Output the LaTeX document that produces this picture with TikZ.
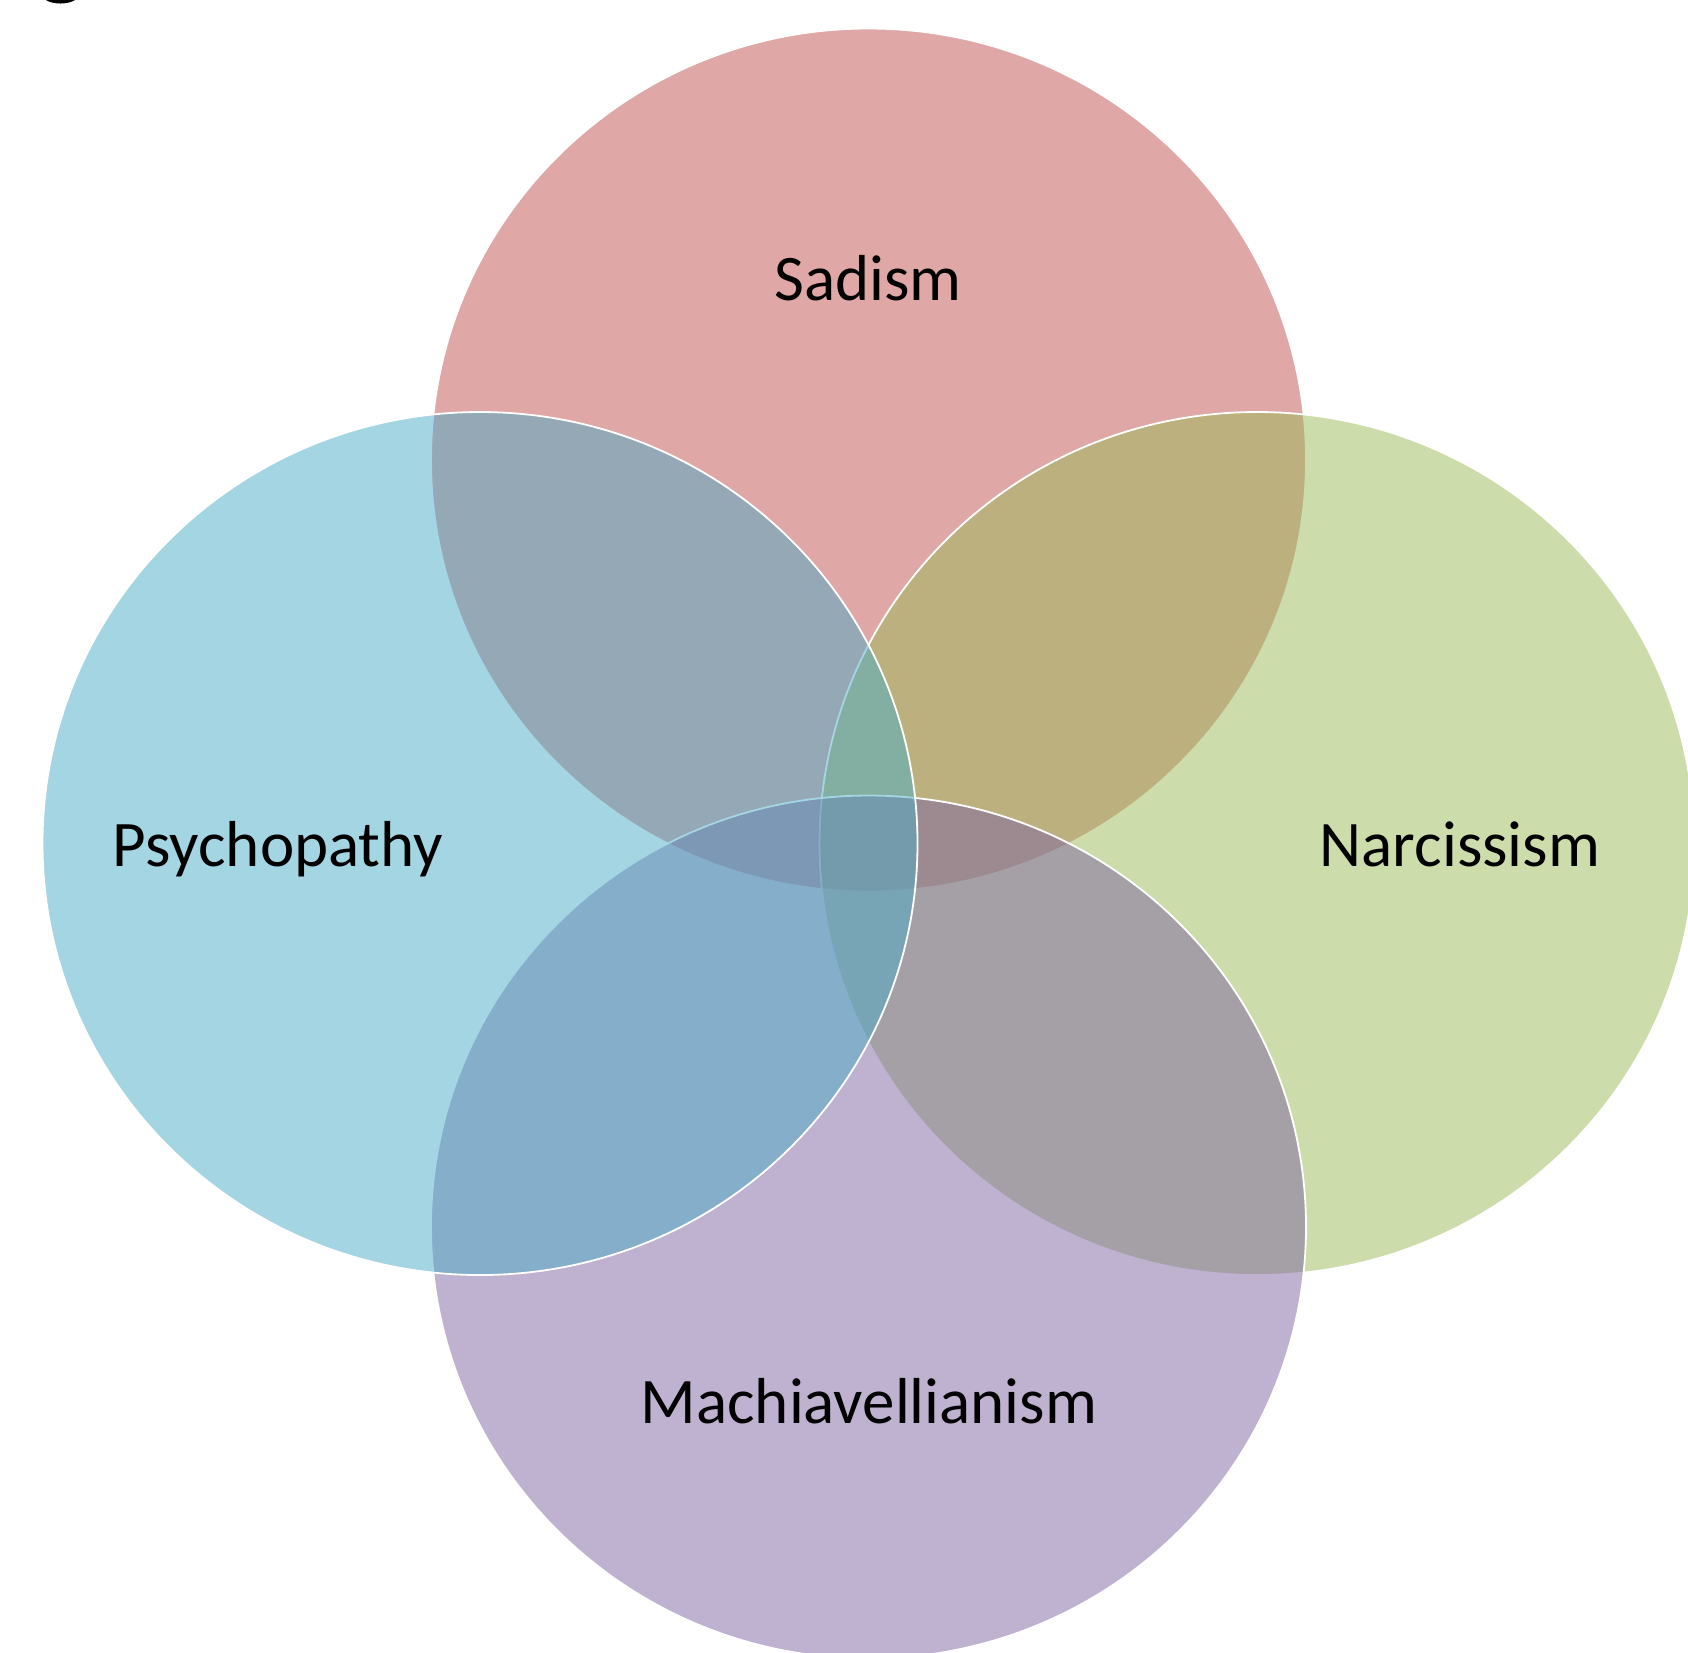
\documentclass[tikz,border=0pt]{standalone}
\usepackage{fontspec}
\setmainfont{Carlito}
\usepackage{tikz}
\usetikzlibrary{positioning}

\definecolor{sadred}{HTML}{C0504D}
\definecolor{narcgreen}{HTML}{9BBB59}
\definecolor{machpurple}{HTML}{8064A2}
\definecolor{psyblue}{HTML}{4BACC6}

\begin{document}
\begin{tikzpicture}[x=0.25pt,y=0.25pt,yscale=-1,xscale=1,
  venn/.style={draw=white, line width=0.45pt, fill opacity=0.5},
  trait/.style={anchor=base, text=black, font=\fontsize{16.25}{19}\selectfont}]
%set diagram left start at 0, and has height of 1652
\path[use as bounding box, fill=white] (0,0) rectangle (1688,1652);

%Shape: Ellipse (cut at the top left corner)
\fill[black] (60.5,-5) ellipse [x radius=18, y radius=8.5];

%Shape: Ellipse [Sadism]
\draw[venn, fill=sadred] (868.5,460) ellipse [x radius=437.5, y radius=431.5];

%Shape: Ellipse [Narcissism]
\draw[venn, fill=narcgreen] (1257,843.5) ellipse [x radius=437.5, y radius=431.5];

%Shape: Ellipse [Machiavellianism]
\draw[venn, fill=machpurple] (868.5,1227) ellipse [x radius=437.5, y radius=431.5];

%Shape: Ellipse [Psychopathy]
\draw[venn, fill=psyblue] (480,843.5) ellipse [x radius=437.5, y radius=431.5];

% Text Node
\node[trait] (sadism) at (868,300) {Sadism};
% Text Node
\node[trait] (psychopathy) at (278,866) {Psychopathy};
% Text Node
\node[trait] (narcissism) at (1460,866) {Narcissism};
% Text Node
\node[trait] (machiavellianism) at (869,1423) {Machiavellianism};
\end{tikzpicture}
\end{document}
